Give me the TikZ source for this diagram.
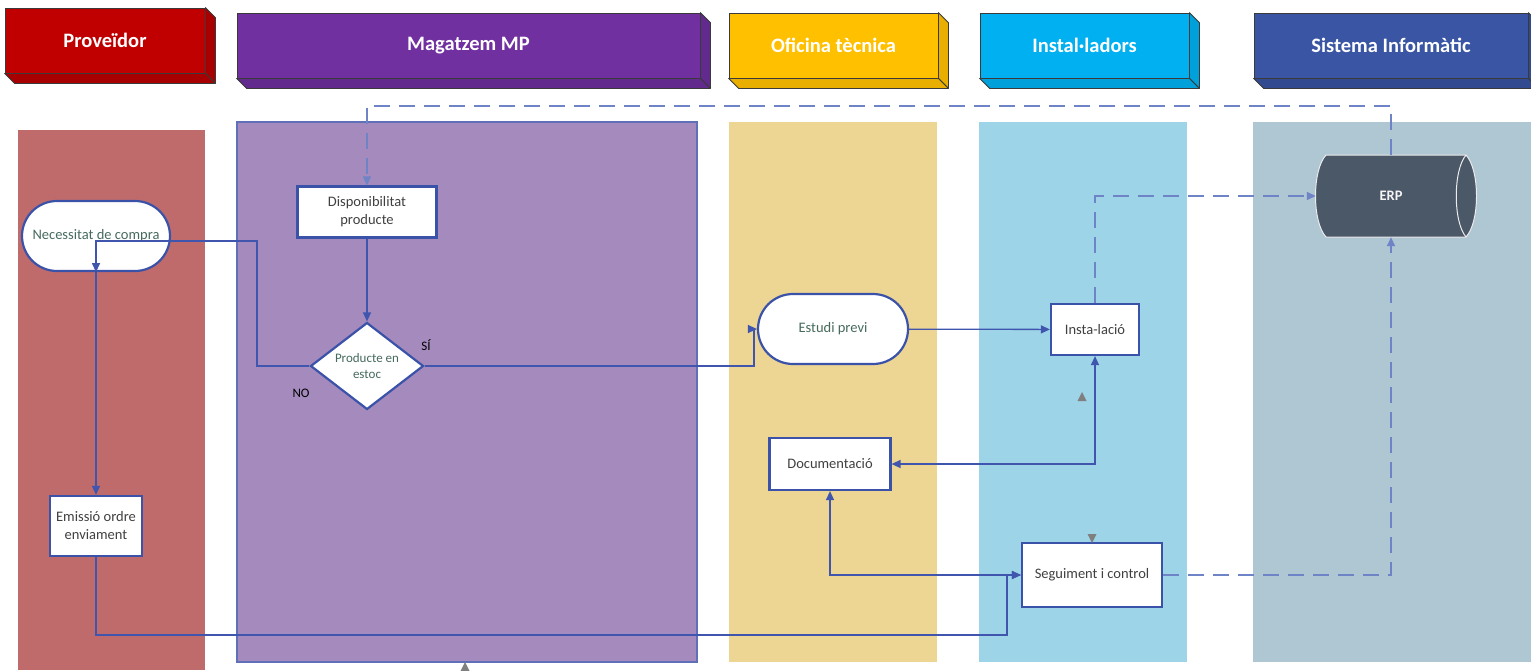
\documentclass[tikz,border=0pt]{standalone}
\usepackage{fontspec}
\setmainfont{Carlito}
\usetikzlibrary{arrows.meta,shapes.geometric}

\definecolor{cProv}{HTML}{C00000}
\definecolor{cProvD}{HTML}{A80000}
\definecolor{cMag}{HTML}{7030A0}
\definecolor{cMagD}{HTML}{632A8E}
\definecolor{cOfi}{HTML}{FFC000}
\definecolor{cOfiD}{HTML}{E8AE00}
\definecolor{cIns}{HTML}{00B0F0}
\definecolor{cInsD}{HTML}{00A0DA}
\definecolor{cSis}{HTML}{3A55A4}
\definecolor{cSisD}{HTML}{324A90}
\definecolor{edgegray}{HTML}{3A3A3A}
\definecolor{lProv}{HTML}{C06B6B}
\definecolor{lMag}{HTML}{A58ABD}
\definecolor{lMagB}{HTML}{5F6FB8}
\definecolor{lOfi}{HTML}{EDD593}
\definecolor{lIns}{HTML}{9DD4E8}
\definecolor{lSis}{HTML}{AFC6D3}
\definecolor{flowblue}{HTML}{3F55AE}
\definecolor{dashblue}{HTML}{6F84C6}
\definecolor{boxblue}{HTML}{3A52A8}
\definecolor{txtgreen}{HTML}{466B5C}
\definecolor{txtgray}{HTML}{404040}
\definecolor{erpfill}{HTML}{4B5868}
\definecolor{strayarrow}{HTML}{7F7F7F}

% 3D depth faces of a lane header (right side and bottom)
\newcommand\depthfaces[2]{%
  \filldraw[fill=#2, draw=edgegray, line width=0.8pt, line join=round]
    (#1.north east) -- ([shift={(10,10)}]#1.north east)
    -- ([shift={(10,10)}]#1.south east) -- (#1.south east) -- cycle;
  \filldraw[fill=#2, draw=edgegray, line width=0.8pt, line join=round]
    (#1.south west) -- (#1.south east)
    -- ([shift={(10,10)}]#1.south east) -- ([shift={(10,10)}]#1.south west) -- cycle;}

\tikzset{
  headbox/.style={rectangle, draw=edgegray, line width=0.8pt, text=white,
    font=\fontsize{20.5}{24}\selectfont\bfseries, minimum height=65pt, inner sep=0pt},
  procbox/.style={rectangle, draw=boxblue, line width=2.2pt, fill=white,
    text=txtgray, align=center, inner sep=3pt,
    font=\fontsize{14.5}{18}\selectfont},
  termbox/.style={procbox, rounded corners=35pt, minimum height=70pt, text=txtgreen},
  decbox/.style={diamond, draw=boxblue, line width=2.2pt, fill=white, text=txtgreen,
    align=center, inner sep=0pt, aspect=1.3,
    font=\fontsize{13}{16}\selectfont},
  flow/.style={draw=flowblue, line width=1.3pt,
    -{Triangle[length=9pt,width=8pt]}},
  flowboth/.style={draw=flowblue, line width=1.3pt,
    {Triangle[length=9pt,width=8pt]}-{Triangle[length=9pt,width=8pt]}},
  dflow/.style={draw=dashblue, line width=1.6pt, dash pattern=on 16pt off 9pt,
    -{Triangle[length=9pt,width=8pt]}},
  branchlabel/.style={text=black, font=\fontsize{13}{16}\selectfont, inner sep=0pt},
}

\begin{document}
\begin{tikzpicture}[x=1pt,y=-1pt]
\useasboundingbox (0,0) rectangle (1531,670);

% lanes
\fill[lProv] (18,130) rectangle (205,670);
\filldraw[fill=lMag, draw=lMagB, line width=1.2pt] (237,122) rectangle (697,662);
\fill[lOfi] (729,122) rectangle (937,662);
\fill[lIns] (979,122) rectangle (1187,662);
\fill[lSis] (1253,122) rectangle (1531,662);

% lane headers
\node[headbox, fill=cProv, minimum width=200pt] (hprov) at (105,40.5) {Proveïdor};
\depthfaces{hprov}{cProvD}
\node[headbox, fill=cMag, minimum width=463pt] (hmag) at (468.5,45.5) {Magatzem MP};
\depthfaces{hmag}{cMagD}
\node[headbox, fill=cOfi, minimum width=209pt] (hofi) at (833.5,45.5) {Oficina tècnica};
\depthfaces{hofi}{cOfiD}
\node[headbox, fill=cIns, minimum width=209pt] (hins) at (1084.5,45.5) {Instal·ladors};
\depthfaces{hins}{cInsD}
\node[headbox, fill=cSis, minimum width=274pt] (hsis) at (1391,45.5) {Sistema Informàtic};
\depthfaces{hsis}{cSisD}

% process nodes
\node[termbox, minimum width=148pt] (necess) at (96,236) {Necessitat de compra};
\node[procbox, minimum width=139pt, minimum height=51pt] (dispo) at (367,212) {Disponibilitat\\producte};
\node[decbox, minimum width=113pt, minimum height=87pt] (estoc) at (367,366) {Producte en\\estoc};
\node[termbox, minimum width=150pt] (estudi) at (833,329) {Estudi previ};
\node[procbox, minimum width=88pt, minimum height=51pt] (insta) at (1095,329.5) {Insta-lació};
\node[procbox, minimum width=121pt, minimum height=52pt] (doc) at (830,464) {Documentació};
\node[procbox, minimum width=92pt, minimum height=60pt] (emissio) at (96,526) {Emissió ordre\\enviament};
\node[procbox, minimum width=140pt, minimum height=64pt] (seg) at (1092,575) {Seguiment i control};

% ERP data store (horizontal cylinder)
\node[minimum width=150pt, minimum height=82pt, inner sep=0pt] (erp) at (1391,196) {};
\filldraw[fill=erpfill, draw=white!85!gray, line width=1pt]
  (1326,155) -- (1466,155) .. controls (1480,170) and (1480,222) .. (1466,237)
  -- (1326,237) .. controls (1312,222) and (1312,170) .. (1326,155) -- cycle;
\draw[white!85!gray, line width=1pt] (1466,155) .. controls (1453,170) and (1453,222) .. (1466,237);
\node[text=white!92!gray, font=\fontsize{14.5}{17}\selectfont\bfseries] (erptext) at (erp) {ERP};

% turning points
\coordinate (noturn) at (257,241);
\coordinate (returnturn) at (1007,635);

% connectors
\draw[dflow] (erp.north) -- ++(0,-49) -| (dispo.north);
\draw[flow] (dispo) -- (estoc);
\draw[flow] (estoc.west) -| (noturn) -| (necess.south);
\draw[flow] (necess.south) -- (emissio.north);
\draw[flow] (estoc.east) -| ([xshift=-3pt]estudi.west) -- (estudi.west);
\draw[flow] (estudi) -- (insta);
\draw[flowboth] (doc.east) -| (insta.south);
\draw[flowboth] (doc.south) |- (seg.west);
\draw[flow] (emissio.south) |- (returnturn) |- (seg.west);
\draw[dflow] (seg.east) -| (erp.south);
\draw[dflow] (insta.north) |- (erp.west);

% branch labels
\node[branchlabel] (silabel) at (426,345) {SÍ};
\node[branchlabel] (nolabel) at (301,393) {NO};

% loose arrowheads
\fill[strayarrow] (1082,392) -- (1086.5,401) -- (1077.5,401) -- cycle;
\fill[strayarrow] (1092,543) -- (1087.5,534) -- (1096.5,534) -- cycle;
\fill[strayarrow] (465,662) -- (469.5,671) -- (460.5,671) -- cycle;
\end{tikzpicture}
\end{document}
